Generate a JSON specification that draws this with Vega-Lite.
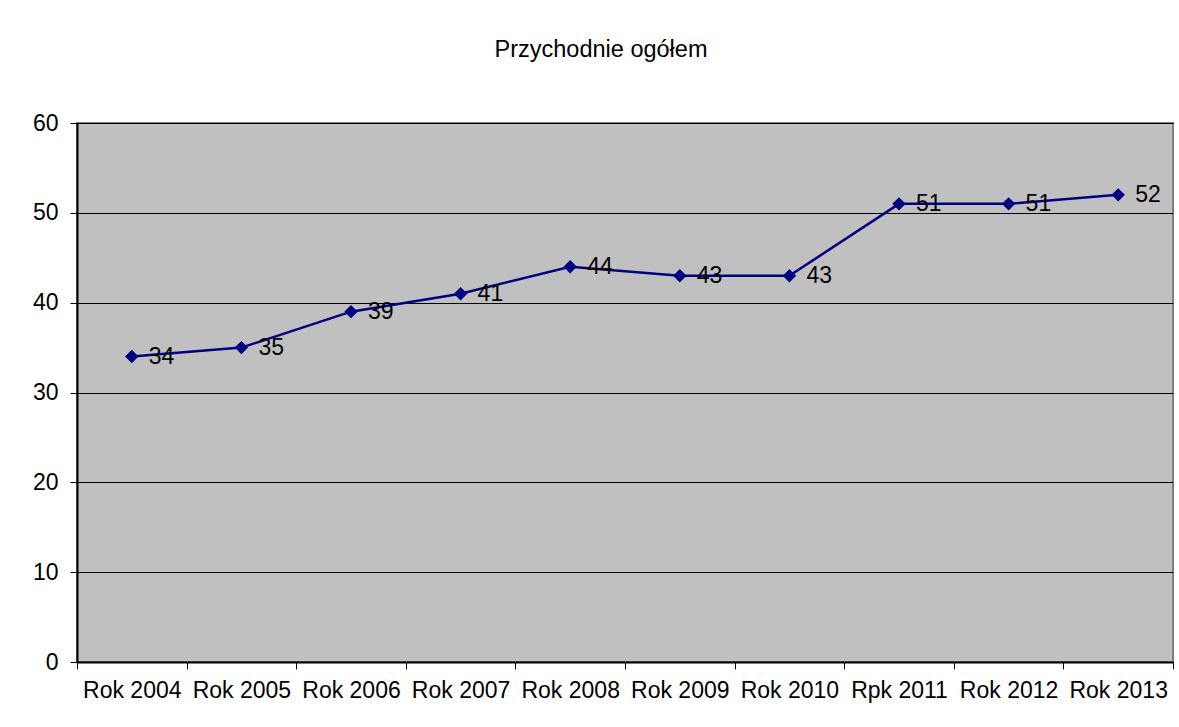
{
  "$schema": "https://vega.github.io/schema/vega-lite/v6.json",
  "autosize": {"type": "none"},
  "width": 1096,
  "height": 539,
  "padding": {"left": 77, "top": 123, "right": 6, "bottom": 65},
  "background": "white",
  "title": {
    "text": "Przychodnie ogółem",
    "font": "Liberation Sans",
    "fontSize": 23.5,
    "fontWeight": "normal",
    "color": "black",
    "anchor": "middle",
    "baseline": "alphabetic",
    "offset": 32,
    "dx": -24
  },
  "data": {
    "values": [
      {"rok": "Rok 2004", "wartosc": 34},
      {"rok": "Rok 2005", "wartosc": 35},
      {"rok": "Rok 2006", "wartosc": 39},
      {"rok": "Rok 2007", "wartosc": 41},
      {"rok": "Rok 2008", "wartosc": 44},
      {"rok": "Rok 2009", "wartosc": 43},
      {"rok": "Rok 2010", "wartosc": 43},
      {"rok": "Rpk 2011", "wartosc": 51},
      {"rok": "Rok 2012", "wartosc": 51},
      {"rok": "Rok 2013", "wartosc": 52}
    ]
  },
  "encoding": {
    "x": {
      "field": "rok",
      "type": "nominal",
      "sort": null,
      "scale": {"type": "band", "paddingInner": 0, "paddingOuter": 0},
      "axis": {
        "title": null,
        "labelAngle": 0,
        "labelFont": "Liberation Sans",
        "labelFontSize": 23,
        "labelColor": "black",
        "labelPadding": 10,
        "tickSize": 7,
        "tickColor": "black",
        "tickBand": "extent",
        "bandPosition": 0,
        "domainColor": "black",
        "domainWidth": 2,
        "grid": false
      }
    },
    "y": {
      "field": "wartosc",
      "type": "quantitative",
      "scale": {"domain": [0, 60], "nice": false},
      "axis": {
        "title": null,
        "values": [0, 10, 20, 30, 40, 50, 60],
        "labelFont": "Liberation Sans",
        "labelFontSize": 23,
        "labelColor": "black",
        "labelPadding": 12,
        "tickSize": 7,
        "tickColor": "black",
        "domainColor": "black",
        "domainWidth": 2,
        "grid": true,
        "gridColor": "black",
        "gridWidth": 1,
        "gridOpacity": 1
      }
    }
  },
  "layer": [
    {
      "mark": {"type": "line", "color": "#000080", "strokeWidth": 2.5}
    },
    {
      "mark": {"type": "point", "shape": "diamond", "filled": true, "color": "#000080", "size": 180, "opacity": 1}
    },
    {
      "mark": {"type": "text", "align": "left", "baseline": "middle", "dx": 17, "font": "Liberation Sans", "fontSize": 23, "color": "black"},
      "encoding": {"text": {"field": "wartosc", "type": "quantitative"}}
    }
  ],
  "config": {
    "view": {"fill": "#C0C0C0", "stroke": "#808080", "strokeWidth": 2}
  }
}
